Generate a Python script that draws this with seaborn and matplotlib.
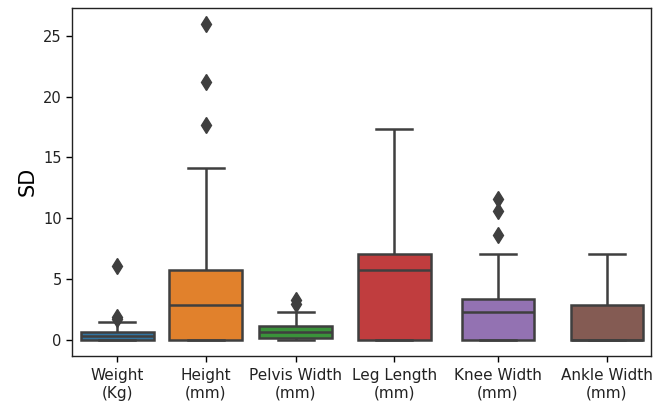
import matplotlib
matplotlib.use("Agg")
import matplotlib.pyplot as plt
import numpy as np
import pandas as pd
import seaborn as sns

# Per-measurement standard deviations (one value per subject)
weight_kg = [0, 0, 0, 0, 0, 0.10, 0.15, 0.22, 0.29, 0.38, 0.45, 0.55, 0.64, 1.42, 1.72, 1.85, 6.05]
height_mm = [0, 0, 0, 0, 0, 0.80, 1.50, 2.20, 2.87, 3.50, 4.20, 5.00, 5.72, 14.15, 17.64, 21.20, 25.99]
pelvis_width_mm = [0, 0.03, 0.06, 0.10, 0.25, 0.42, 0.59, 0.78, 0.95, 1.14, 2.27, 2.95, 3.25]
leg_length_mm = [0, 0, 0, 2.50, 5.72, 6.30, 7.04, 9.00, 17.34]
knee_width_mm = [0, 0, 0, 0, 0, 0.60, 1.20, 1.80, 2.27, 2.60, 2.90, 3.10, 3.34, 7.04, 8.60, 10.58, 11.56]
ankle_width_mm = [0, 0, 0, 0, 0, 1.50, 2.84, 4.00, 7.04]

categories = ["Weight\n(Kg)", "Height\n(mm)", "Pelvis Width\n(mm)",
              "Leg Length\n(mm)", "Knee Width\n(mm)", "Ankle Width\n(mm)"]
series = [weight_kg, height_mm, pelvis_width_mm, leg_length_mm, knee_width_mm, ankle_width_mm]

# Horizontal placement of each box along the axis
positions = [0.0, 1.0, 2.018, 3.133, 4.303, 5.536]

rows = []
for cat, pos, vals in zip(categories, positions, series):
    for v in vals:
        rows.append({"pos": pos, "Measurement": cat, "SD": v})
df = pd.DataFrame(rows)

fig = plt.figure(figsize=(6.57, 4.09), dpi=100)
ax = fig.add_axes([0.1096, 0.1303, 0.8814, 0.8501])

edge = "#3f3f3f"
sns.boxplot(
    data=df, x="pos", y="SD", hue="Measurement", hue_order=categories,
    palette="tab10", saturation=0.75, native_scale=True, dodge=False,
    width=0.82, linewidth=1.8, linecolor=edge, legend=False, ax=ax,
    flierprops={"marker": "d", "markerfacecolor": edge, "markeredgecolor": edge,
                "markersize": 8},
)

ax.set_xticks(positions)
ax.set_xticklabels(categories, fontsize=11, color="#222222")
ax.set_xlim(-0.512, 6.037)
ax.set_ylim(-1.33, 27.3)
ax.set_yticks([0, 5, 10, 15, 20, 25])
ax.tick_params(axis="y", labelsize=10.5, labelcolor="#222222", length=4, width=1.0)
ax.tick_params(axis="x", length=4, width=1.0, pad=5)
for sp in ax.spines.values():
    sp.set_color("#222222")
    sp.set_linewidth(1.0)
ax.set_xlabel("")
ax.set_ylabel("SD", fontsize=15)

fig.savefig("out.png", dpi=100)
